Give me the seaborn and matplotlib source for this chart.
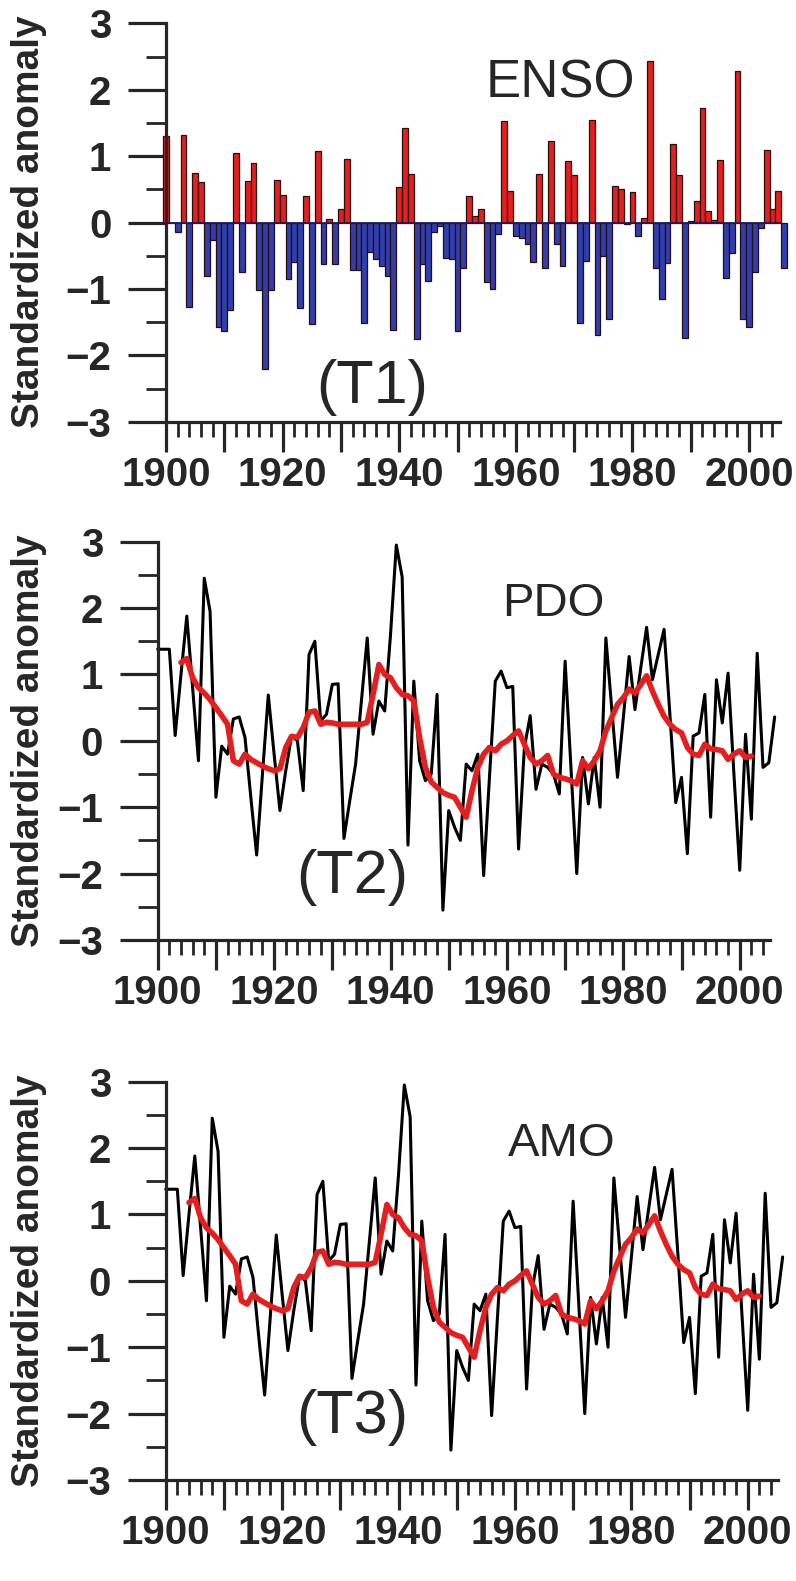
import numpy as np
import pandas as pd
import matplotlib
matplotlib.use("Agg")
import matplotlib.pyplot as plt
from matplotlib.ticker import MultipleLocator
import seaborn as sns

# --- DATA ---
ENSO_YEARS = list(range(1900, 2007))
ENSO_VALUES = [
    1.30, 0.00, -0.15, 1.32, -1.27, 0.75, 0.61, -0.80, -0.27, -1.58,
    -1.63, -1.32, 1.04, -0.75, 0.62, 0.90, -1.02, -2.20, -1.02, 0.64,
    0.41, -0.85, -0.60, -1.29, 0.40, -1.53, 1.07, -0.63, 0.05, -0.63,
    0.20, 0.96, -0.72, -0.72, -1.52, -0.45, -0.55, -0.65, -0.80, -1.62,
    0.53, 1.43, 0.73, -1.75, -0.62, -0.88, -0.15, -0.05, -0.53, -0.55,
    -1.63, -0.68, 0.40, 0.10, 0.20, -0.90, -1.00, -0.18, 1.53, 0.48,
    -0.20, -0.23, -0.33, -0.60, 0.73, -0.68, 1.23, -0.33, -0.65, 0.92,
    0.71, -1.52, -0.58, 1.55, -1.70, -0.50, -1.46, 0.55, 0.50, -0.02,
    0.46, -0.20, 0.07, 2.43, -0.69, -1.15, -0.61, 1.18, 0.72, -1.74,
    0.02, 0.33, 1.72, 0.18, 0.04, 0.94, -0.84, -0.46, 2.28, -1.46,
    -1.57, -0.74, -0.08, 1.09, 0.21, 0.48, -0.68,
]

PDO_YEARS = list(range(1900, 2007))
PDO_VALUES = [
    1.38, 1.38, 1.38, 0.08, 1.00, 1.88, 0.80, -0.30, 2.45, 1.95,
    -0.85, -0.08, -0.20, 0.33, 0.36, 0.05, -0.85, -1.72, -0.50, 0.69,
    -0.20, -1.05, -0.45, 0.08, 0.00, -0.75, 1.30, 1.50, 0.30, 0.40,
    0.85, 0.86, -1.47, -0.90, -0.35, 0.60, 1.55, 0.10, 0.60, 0.45,
    1.60, 2.95, 2.47, -1.57, 0.90, -0.30, -0.60, -0.50, 0.70, -2.55,
    -1.05, -1.30, -1.50, -0.35, -0.45, -0.20, -2.03, -0.55, 0.90, 1.05,
    0.80, 0.82, -1.63, -0.10, 0.38, -0.73, -0.35, -0.40, -0.50, -0.80,
    1.20, -0.40, -2.00, -0.25, -0.95, -0.25, -1.00, 1.55, 0.50, -0.55,
    0.35, 1.27, 0.47, 1.10, 1.71, 0.92, 1.30, 1.68, 0.40, -0.93,
    -0.55, -1.70, 0.07, 0.12, 0.70, -1.15, 0.92, 0.27, 1.02, -0.50,
    -1.95, 0.10, -1.18, 1.32, -0.40, -0.33, 0.36,
]

SMOOTH_YEARS = list(range(1904, 2003))
PDO_SMOOTH = [
    1.18, 1.24, 0.95, 0.80, 0.72, 0.62, 0.50, 0.38, 0.25, -0.30,
    -0.35, -0.20, -0.28, -0.33, -0.38, -0.42, -0.45, -0.42, -0.10, 0.07,
    0.05, 0.20, 0.43, 0.45, 0.25, 0.28, 0.27, 0.25, 0.25, 0.25,
    0.25, 0.25, 0.28, 0.70, 1.15, 1.00, 0.95, 0.80, 0.70, 0.68,
    0.60, 0.05, -0.40, -0.62, -0.70, -0.78, -0.82, -0.85, -1.00, -1.15,
    -0.75, -0.40, -0.20, -0.10, -0.15, -0.05, 0.00, 0.08, 0.15, -0.05,
    -0.25, -0.35, -0.30, -0.22, -0.50, -0.55, -0.57, -0.60, -0.65, -0.30,
    -0.42, -0.30, -0.15, 0.15, 0.35, 0.55, 0.65, 0.78, 0.72, 0.85,
    0.98, 0.75, 0.55, 0.37, 0.25, 0.17, 0.12, -0.10, -0.20, -0.22,
    -0.05, -0.12, -0.13, -0.15, -0.28, -0.20, -0.15, -0.25, -0.23,
]

# the AMO panel in the reference repeats the PDO curves
AMO_VALUES = PDO_VALUES
AMO_SMOOTH = PDO_SMOOTH

W, H = 796, 1581
RED = "#e61e1e"
BLUE = "#2f3fb0"
FONT = "Liberation Sans"
TICK_FS = 29
PX = 0.72  # points per pixel at dpi 100


def px_axes(left, right, top, bottom):
    return [left / W, 1 - bottom / H, (right - left) / W, (bottom - top) / H]


def style_axis(ax, x_right):
    ax.set_xlim(1900, x_right)
    ax.set_ylim(-3, 3)
    sns.despine(ax=ax)
    for side in ["left", "bottom"]:
        ax.spines[side].set_linewidth(2.3)
    ax.xaxis.set_major_locator(MultipleLocator(10))
    ax.xaxis.set_major_formatter(plt.FuncFormatter(
        lambda v, p: f"{int(round(v))}" if int(round(v)) % 20 == 0 else ""))
    ax.xaxis.set_minor_locator(MultipleLocator(2))
    ax.yaxis.set_major_locator(MultipleLocator(1))
    ax.yaxis.set_minor_locator(MultipleLocator(0.5))
    ax.tick_params(axis="x", which="major", length=30 * PX, width=2.3,
                   pad=3, labelsize=TICK_FS)
    ax.tick_params(axis="x", which="minor", length=15 * PX, width=2.0)
    ax.tick_params(axis="y", which="major", length=38 * PX, width=2.3,
                   pad=12, labelsize=TICK_FS)
    ax.tick_params(axis="y", which="minor", length=20 * PX, width=2.0)
    for lab in ax.get_xticklabels() + ax.get_yticklabels():
        lab.set_fontweight("bold")
    ax.set_xlabel("")
    ax.set_ylabel("")


def fig_text(x, y, s, size, **kw):
    plt.gcf().text(x / W, 1 - y / H, s, fontsize=size, ha="center",
                   va="center", family=FONT, **kw)


sns.set_style("ticks")
plt.rcParams["font.family"] = [FONT, "DejaVu Sans"]

fig = plt.figure(figsize=(W / 100, H / 100), dpi=100)

# --- ENSO bars ---
enso = pd.DataFrame({"year": ENSO_YEARS, "anomaly": ENSO_VALUES})
enso["phase"] = np.where(enso["anomaly"] >= 0, "warm", "cold")
ax1 = fig.add_axes(px_axes(166, 780, 23.3, 421.7))
sns.barplot(data=enso, x="year", y="anomaly", hue="phase",
            palette={"warm": RED, "cold": BLUE}, native_scale=True,
            dodge=False, width=1.0, errorbar=None, legend=False,
            saturation=1, edgecolor="#2a0c0c", linewidth=0.9, ax=ax1)
for p in ax1.patches:
    p.set_clip_on(False)
ax1.axhline(0, color="#1c1c5a", lw=1.3, zorder=3)
style_axis(ax1, 2005.3)
fig_text(560, 84, "ENSO", 38)
fig_text(372, 388, "(T1)", 44)
fig_text(29, 222, "Standardized anomaly", 28, rotation=90, fontweight="bold")

# --- PDO and AMO lines ---
panels = [
    (157.7, 770, 541.7, 940, PDO_VALUES, PDO_SMOOTH, "PDO", "(T2)"),
    (165.7, 778, 1081.7, 1480, AMO_VALUES, AMO_SMOOTH, "AMO", "(T3)"),
]
for left, right, top, bottom, raw, smooth, name, tag in panels:
    ax = fig.add_axes(px_axes(left, right, top, bottom))
    sns.lineplot(x=PDO_YEARS, y=raw, color="black", linewidth=2.2,
                 clip_on=False, ax=ax)
    sns.lineplot(x=SMOOTH_YEARS, y=smooth, color=RED, linewidth=4.0,
                 solid_joinstyle="round", ax=ax)
    style_axis(ax, 2005.2)
    mid = (top + bottom) / 2
    fig_text(left + 396, top + 62, name, 34)
    fig_text(352, top + 336, tag, 44)
    fig_text(29, mid, "Standardized anomaly", 28, rotation=90,
             fontweight="bold")

fig.savefig("out.png", dpi=100)
